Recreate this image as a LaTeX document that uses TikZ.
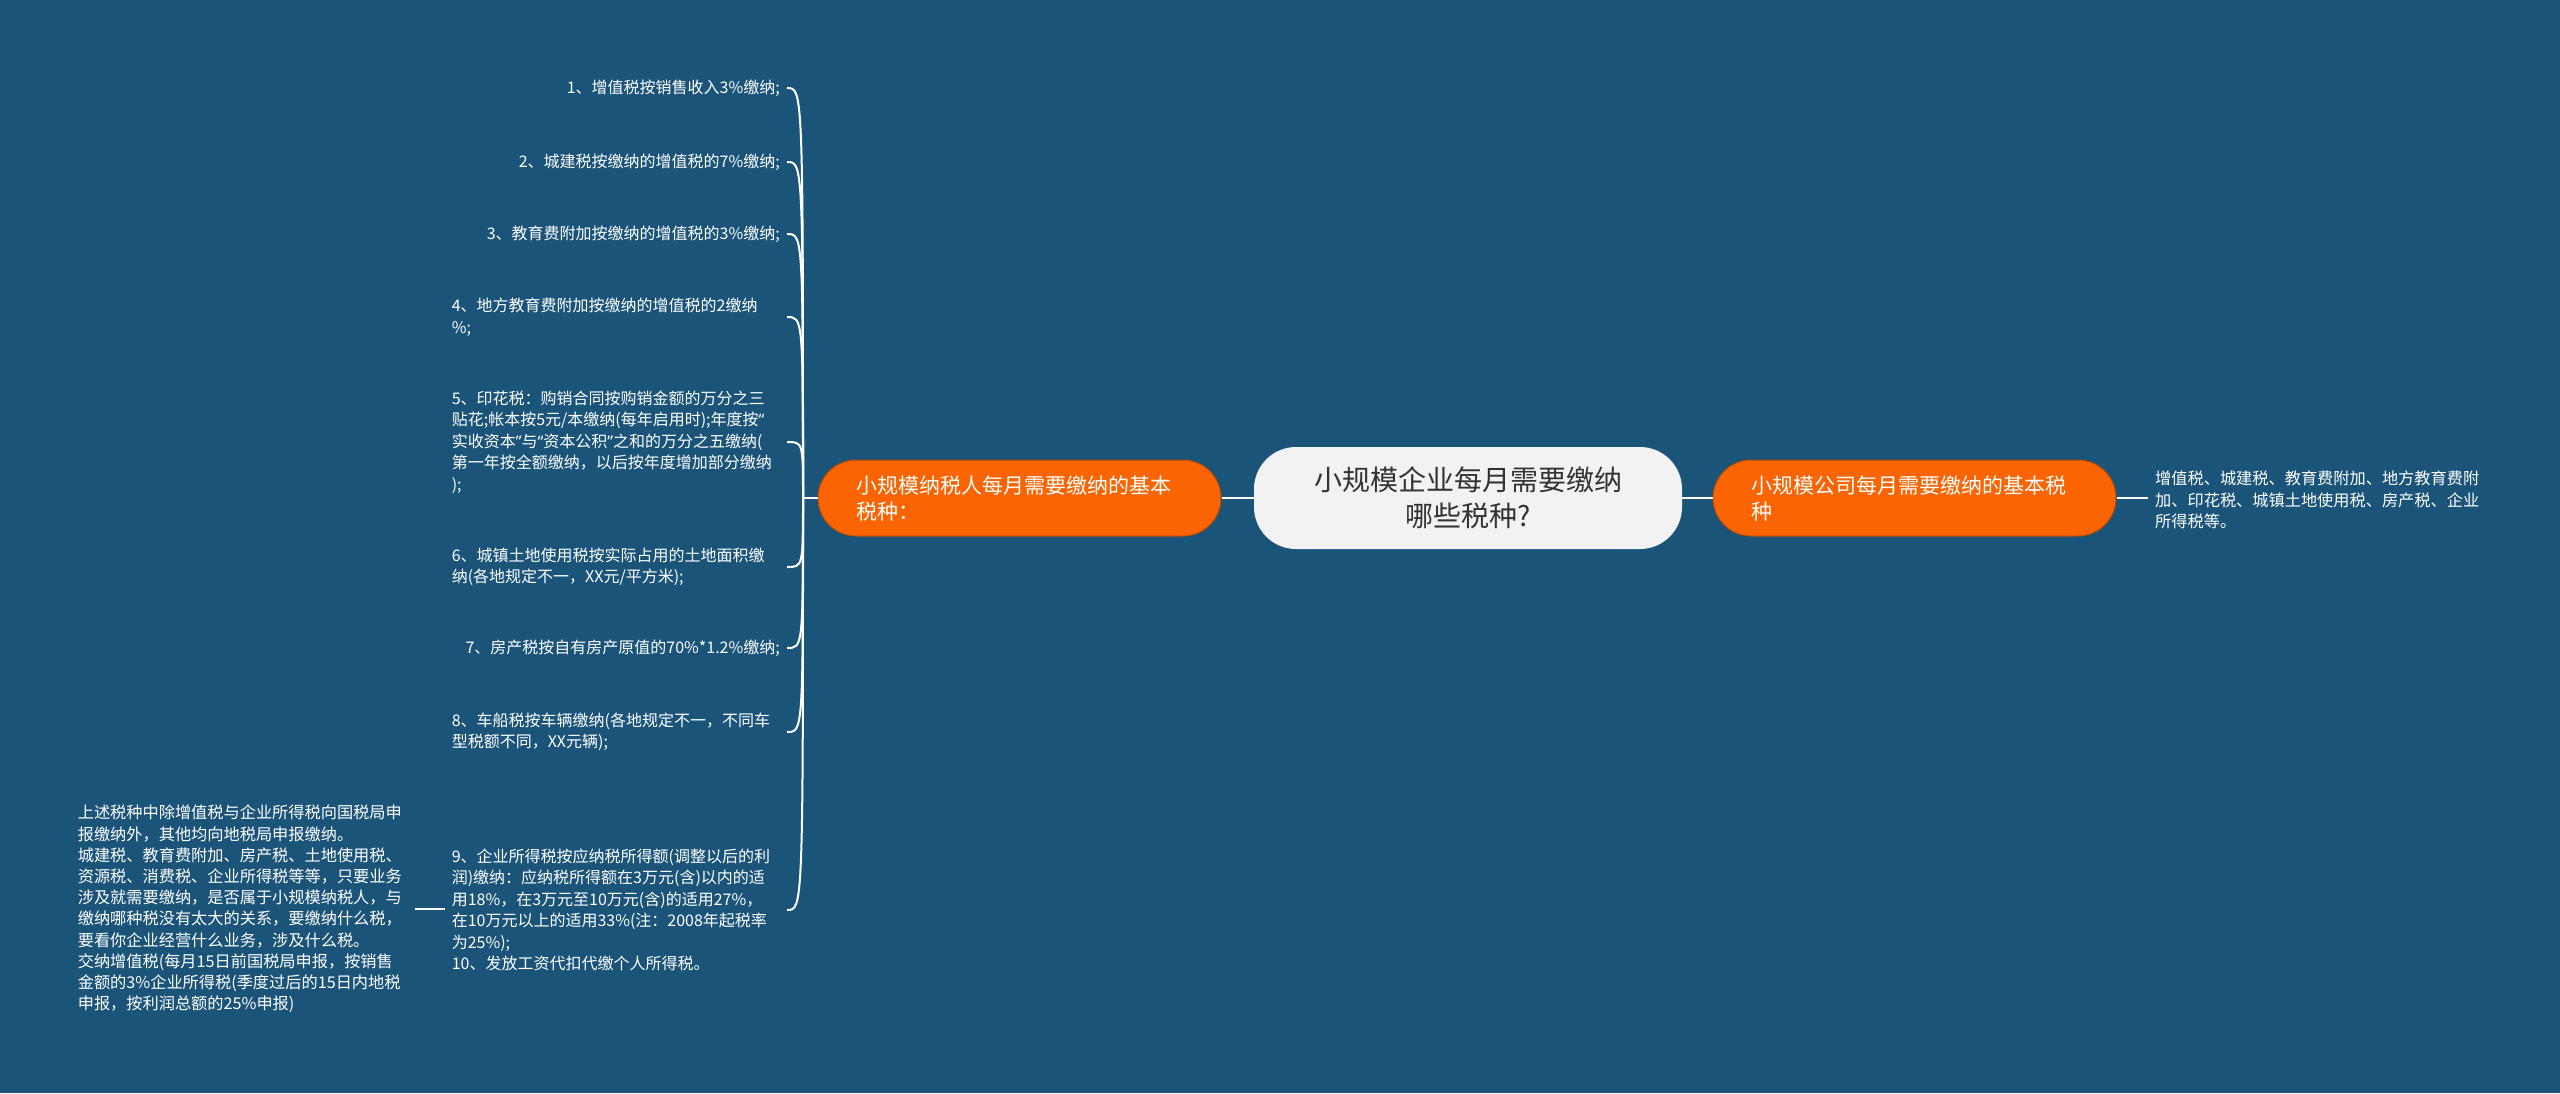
\documentclass[tikz,border=0pt]{standalone}
\usepackage{fontspec}
\setmainfont{Noto Sans CJK SC}
\newfontfamily\qfont{Noto Sans}
\newcommand{\myLQ}{{\qfont “}}
\newcommand{\myRQ}{{\qfont ”}}
\definecolor{bg}{HTML}{1A5479}
\definecolor{orng}{HTML}{FA6402}
\definecolor{cfill}{HTML}{F2F2F2}
\definecolor{ctext}{HTML}{333333}
\begin{document}
\begin{tikzpicture}[x=1pt,y=-1pt,
  conn/.style={draw=white,line width=2.6pt},
  brace/.style={draw=white,line width=2pt},
  leaf/.style={anchor=east,inner xsep=7pt,inner ysep=2pt,text=white,
    font=\fontsize{16}{21.5}\selectfont,align=left},
  wide/.style={text width=328pt},
  onode/.style={fill=orng,draw=orng!75!black,line width=1pt,rounded corners=38pt,
    minimum height=76pt,text width=327pt,inner xsep=38pt,align=left,text=white,
    font=\fontsize{21}{26}\selectfont},
  cnode/.style={fill=cfill,rounded corners=42pt,minimum width=428pt,minimum height=102pt,
    align=center,text=ctext,font=\fontsize{28}{36}\selectfont},
  plain/.style={text=white,align=left,inner xsep=7pt,inner ysep=2pt}]
\fill[bg] (0,0) rectangle (2560,1093);
\useasboundingbox (0,0) rectangle (2560,1093);

% central and main branches
\node[cnode] (c) at (1468,498) {小规模企业每月需要缴纳\\哪些税种?};
\node[onode] (lo) at (1019.5,498) {小规模纳税人每月需要缴纳的基本\\税种：};
\node[onode] (ro) at (1914.5,498) {小规模公司每月需要缴纳的基本税\\种};

% right detail
\node[plain,anchor=west,font=\fontsize{16.2}{21.5}\selectfont] (rt) at (2148,500)
  {增值税、城建税、教育费附加、地方教育费附\\加、印花税、城镇土地使用税、房产税、企业\\所得税等。};

% left leaves
\node[leaf] (l1) at (787,88) {1、增值税按销售收入3\%缴纳;};
\node[leaf] (l2) at (787,162) {2、城建税按缴纳的增值税的7\%缴纳;};
\node[leaf] (l3) at (787,234) {3、教育费附加按缴纳的增值税的3\%缴纳;};
\node[leaf,wide] (l4) at (787,317) {4、地方教育费附加按缴纳的增值税的2缴纳\\\%;};
\node[leaf,wide] (l5) at (787,442) {5、印花税：购销合同按购销金额的万分之三\\贴花;帐本按5元/本缴纳(每年启用时);年度按\myLQ\\实收资本\myRQ 与\myLQ 资本公积\myRQ 之和的万分之五缴纳(\\第一年按全额缴纳，以后按年度增加部分缴纳\\);};
\node[leaf,wide] (l6) at (787,567) {6、城镇土地使用税按实际占用的土地面积缴\\纳(各地规定不一，XX元/平方米);};
\node[leaf] (l7) at (787,648) {7、房产税按自有房产原值的70\%*1.2\%缴纳;};
\node[leaf,wide] (l8) at (787,732) {8、车船税按车辆缴纳(各地规定不一，不同车\\型税额不同，XX元辆);};
\node[leaf,wide] (l9) at (787,910) {9、企业所得税按应纳税所得额(调整以后的利\\润)缴纳：应纳税所得额在3万元(含)以内的适\\用18\%，在3万元至10万元(含)的适用27\%，\\在10万元以上的适用33\%(注：2008年起税率\\为25\%);\\10、发放工资代扣代缴个人所得税。};

% note
\node[plain,anchor=east,text width=330pt,font=\fontsize{16.2}{21.2}\selectfont] (nt) at (415,909)
  {上述税种中除增值税与企业所得税向国税局申\\报缴纳外，其他均向地税局申报缴纳。\\城建税、教育费附加、房产税、土地使用税、\\资源税、消费税、企业所得税等等，只要业务\\涉及就需要缴纳，是否属于小规模纳税人，与\\缴纳哪种税没有太大的关系，要缴纳什么税，\\要看你企业经营什么业务，涉及什么税。\\交纳增值税(每月15日前国税局申报，按销售\\金额的3\%企业所得税(季度过后的15日内地税\\申报，按利润总额的25\%申报)};

% connectors
\coordinate (st) at (803,498);
\draw[conn] (c.west) -- (lo.east);
\draw[conn] (c.east) -- (ro.west);
\draw[conn] (ro.east) -- (rt.west |- ro.east);
\draw[conn] (lo.west) -- (st);
\foreach \n in {l1,l2,l3,l4,l5,l6,l7,l8,l9}
  \draw[brace] (st) .. controls (st |- \n.east) and (st |- \n.east) .. (\n.east);
\draw[conn] (nt.east) -- (nt.east -| l9.west);
\end{tikzpicture}
\end{document}
